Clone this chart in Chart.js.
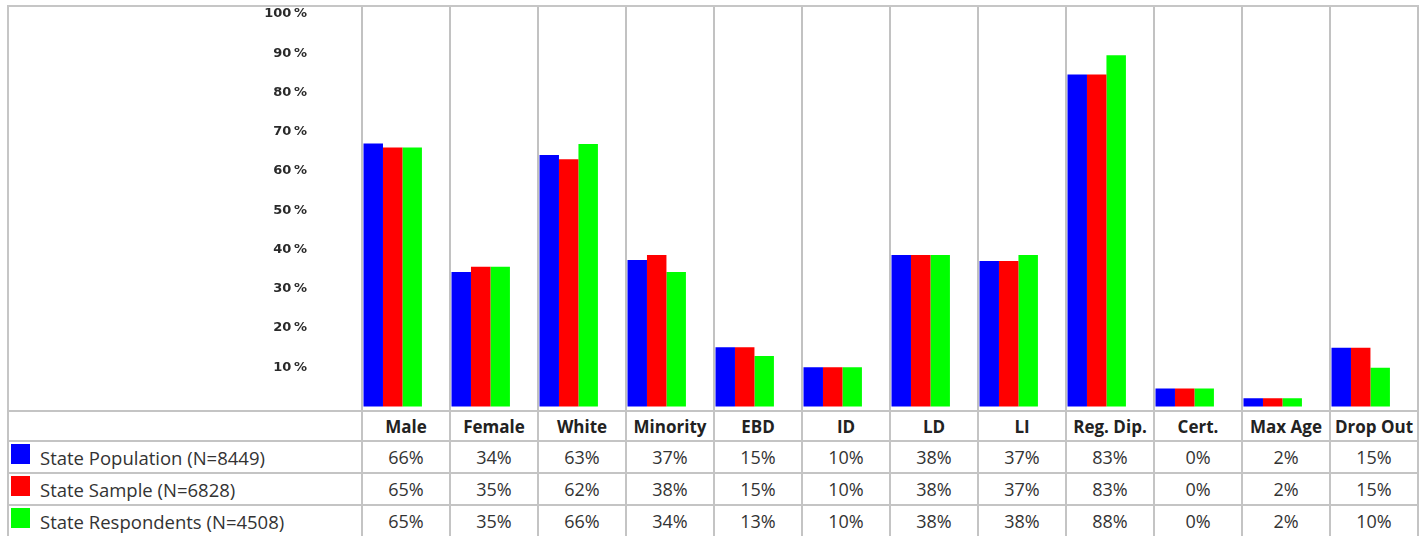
<!DOCTYPE html>
<html>
<head>
<meta charset="utf-8">
<script src="https://cdn.jsdelivr.net/npm/chart.js@4.4.1/dist/chart.umd.min.js"></script>
<style>
  body { margin: 0; background: #fff; }
  #page { position: relative; width: 1426px; height: 536px; overflow: hidden; }
  #frame { position: absolute; left: 7px; top: 5px; width: 1412px; height: 600px; box-sizing: border-box; border: 2px solid #c6c6c6; }
  #chart { position: absolute; left: 0; top: 0; }
  #tbl { position: absolute; left: 7px; top: 410px; width: 1412px; border-collapse: collapse; table-layout: fixed;
         font-family: 'Open Sans', sans-serif; font-size: 18px; color: #333; background: #fff; }
  #tbl td { border: 2px solid #c4c4c4; text-align: center; padding: 0; height: 30px; white-space: nowrap; }
  #tbl tr.hd td { font-weight: bold; font-size: 17px; color: #222; height: 28px; }
  #tbl td.name { text-align: left; position: relative; padding-left: 31px; font-size: 18.5px; }
  #tbl td.name span { position: absolute; left: 2px; top: 2px; width: 19px; height: 20px; }
</style>
</head>
<body>
<div id="page">
  <div id="frame"></div>
  <canvas id="chart" width="1426" height="418"></canvas>
  <table id="tbl"></table>
</div>
<script>
const categories = ['Male', 'Female', 'White', 'Minority', 'EBD', 'ID', 'LD', 'LI', 'Reg. Dip.', 'Cert.', 'Max Age', 'Drop Out'];
const seriesNames = ['State Population (N=8449)', 'State Sample (N=6828)', 'State Respondents (N=4508)'];
const seriesColors = ['#0000ff', '#ff0000', '#00ff00'];

// bar heights as drawn in the picture (%)
const populationBars = [67, 34.3, 64.1, 37.3, 15.1, 10, 38.6, 37.1, 84.6, 4.6, 2.1, 15];
const sampleBars = [66, 35.6, 63, 38.6, 15.1, 10, 38.6, 37.1, 84.6, 4.6, 2.1, 15];
const respondentBars = [66, 35.6, 66.9, 34.3, 12.9, 10, 38.6, 38.6, 89.5, 4.6, 2.1, 9.9];

// values printed in the table (%)
const populationPct = [66, 34, 63, 37, 15, 10, 38, 37, 83, 0, 2, 15];
const samplePct = [65, 35, 62, 38, 15, 10, 38, 37, 83, 0, 2, 15];
const respondentPct = [65, 35, 66, 34, 13, 10, 38, 38, 88, 0, 2, 10];

const barSets = [populationBars, sampleBars, respondentBars];
const pctSets = [populationPct, samplePct, respondentPct];

// bars sit at the left of each column
const groupShift = 0.349;

new Chart(document.getElementById('chart'), {
    type: 'bar',
    data: {
        datasets: barSets.map((vals, s) => ({
            label: seriesNames[s],
            data: vals.map((v, i) => ({ x: i + groupShift, y: v })),
            backgroundColor: seriesColors[s],
            borderWidth: 0,
            categoryPercentage: 0.664,
            barPercentage: 1
        }))
    },
    options: {
        responsive: false,
        animation: false,
        layout: { padding: { top: 7, right: 8, bottom: 0, left: 0 } },
        plugins: { legend: { display: false }, tooltip: { enabled: false } },
        scales: {
            x: {
                type: 'linear',
                min: 0,
                max: categories.length,
                offset: false,
                grid: { offset: false, color: '#c2c2c2', lineWidth: 2, drawTicks: false },
                border: { display: false },
                ticks: { display: false, stepSize: 1 },
                afterFit: (s) => { s.height = 0; }
            },
            y: {
                min: -1.27,
                max: 101.78,
                grid: { display: true, color: 'rgba(0,0,0,0)', drawTicks: true, tickLength: 55 },
                border: { display: false },
                ticks: {
                    stepSize: 10,
                    includeBounds: false,
                    padding: 0,
                    color: '#2a2a2a',
                    font: { family: 'DejaVu Sans', weight: 'bold', size: 13, lineHeight: 1 },
                    callback: (v) => (v > 0 && v <= 100) ? v + '\u2009%' : null
                },
                afterFit: (s) => { s.width = 362; }
            }
        }
    }
});

// data table under the chart
const tbl = document.getElementById('tbl');
let html = '<colgroup><col style="width:354px">' + categories.map(() => '<col style="width:88px">').join('') + '</colgroup>';
html += '<tr class="hd"><td></td>' + categories.map(c => `<td>${c}</td>`).join('') + '</tr>';
pctSets.forEach((vals, s) => {
    html += `<tr><td class="name"><span style="background:${seriesColors[s]}"></span>${seriesNames[s]}</td>`;
    html += vals.map(v => `<td>${v}%</td>`).join('') + '</tr>';
});
tbl.innerHTML = html;
</script>
</body>
</html>
